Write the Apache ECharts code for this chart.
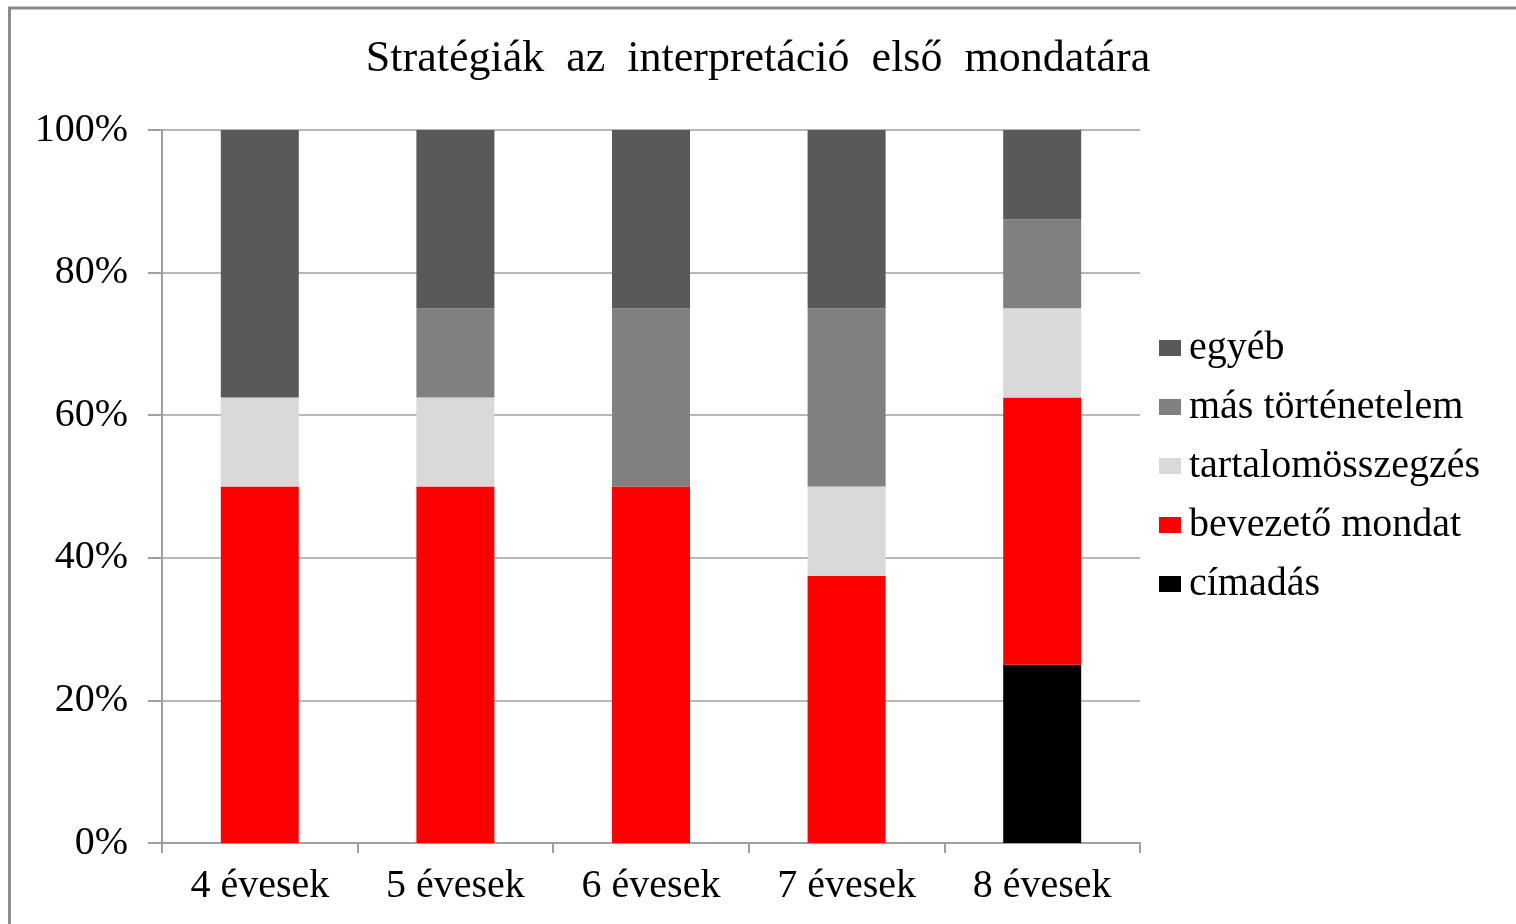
<!DOCTYPE html>
<html lang="hu">
<head>
  <meta charset="UTF-8">
  <title>Stratégiák az interpretáció első mondatára</title>
  <style>
    html, body { margin: 0; padding: 0; background: #fff; overflow: hidden; }
    #chart { width: 1516px; height: 924px; }
  </style>
</head>
<body>
  <div id="chart"></div>
</body>
</html>
<script src="https://cdn.jsdelivr.net/npm/echarts@6/dist/echarts.min.js"></script>
<script type="text/javascript">
  // adatok (százalék)
  var categories = ['4 évesek', '5 évesek', '6 évesek', '7 évesek', '8 évesek'];
  var cimadas    = [0, 0, 0, 0, 25];
  var bevezeto   = [50, 50, 50, 37.5, 37.5];
  var tartalom   = [12.5, 12.5, 0, 12.5, 12.5];
  var masElem    = [0, 12.5, 25, 25, 12.5];
  var egyeb      = [37.5, 25, 25, 25, 12.5];
  var legendOrder = ['egyéb', 'más történetelem', 'tartalomösszegzés', 'bevezető mondat', 'címadás'];

  var font = '"Liberation Serif", "Times New Roman", serif';
  var myChart = echarts.init(document.getElementById('chart'));

  function bar(name, data, color) {
    return {
      name: name,
      type: 'bar',
      stack: 'total',
      barWidth: 78,
      data: data,
      itemStyle: { color: color }
    };
  }

  var option = {
    animation: false,
    backgroundColor: '#fff',
    title: {
      text: 'Stratégiák  az  interpretáció  első  mondatára',
      left: 'center',
      top: 32,
      textStyle: { fontFamily: font, fontSize: 44, fontWeight: 'normal', color: '#000' }
    },
    legend: {
      orient: 'vertical',
      left: 1159,
      top: 328,
      padding: 0,
      itemWidth: 22,
      itemHeight: 16,
      itemGap: 19,
      icon: 'rect',
      data: legendOrder,
      textStyle: { fontFamily: font, fontSize: 40, lineHeight: 40, color: '#000', padding: [0, 0, 0, 3] }
    },
    grid: { left: 162, right: 376, top: 130, bottom: 81 },
    xAxis: {
      type: 'category',
      data: categories,
      axisLine: { lineStyle: { color: '#a0a0a0', width: 2 } },
      axisTick: { show: true, length: 10, lineStyle: { color: '#a0a0a0', width: 2 } },
      axisLabel: { fontFamily: font, fontSize: 40, color: '#000', margin: 23 }
    },
    yAxis: {
      type: 'value',
      min: 0,
      max: 100,
      interval: 20,
      axisLine: { show: true, lineStyle: { color: '#a0a0a0', width: 2 } },
      axisTick: { show: true, length: 14, lineStyle: { color: '#a0a0a0', width: 2 } },
      splitLine: { lineStyle: { color: '#a0a0a0', width: 1.5 } },
      axisLabel: { fontFamily: font, fontSize: 40, color: '#000', margin: 34, formatter: '{value}%' }
    },
    graphic: [{
      type: 'rect',
      shape: { x: 9.5, y: 8, width: 1700, height: 1100 },
      style: { fill: 'none', stroke: '#8c8c8c', lineWidth: 3 },
      z: -1
    }],
    series: [
      bar('címadás', cimadas, '#000000'),
      bar('bevezető mondat', bevezeto, '#ff0000'),
      bar('tartalomösszegzés', tartalom, '#d9d9d9'),
      bar('más történetelem', masElem, '#808080'),
      bar('egyéb', egyeb, '#595959')
    ]
  };
  myChart.setOption(option);
</script>
